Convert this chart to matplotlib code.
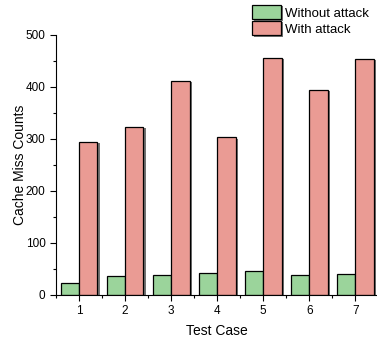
import numpy as np
import matplotlib
matplotlib.use("Agg")
import matplotlib.pyplot as plt
import matplotlib.patheffects as pe
from matplotlib.ticker import MultipleLocator

plt.rcParams["font.family"] = ["Liberation Sans", "DejaVu Sans"]

cases = [1, 2, 3, 4, 5, 6, 7]
without_attack = [23, 37, 39, 42, 47, 38, 41]
with_attack = [295, 323, 412, 303, 456, 394, 454]

green = "#9bd49b"
red = "#ea9b94"

fig = plt.figure(figsize=(3.77, 3.39), dpi=100)
ax = fig.add_axes([0.1485, 0.1298, 0.855, 0.767])

x = np.array(cases)
w = 0.4
shadow = [pe.SimplePatchShadow(offset=(1.5, -1.0), shadow_rgbFace="#444444", alpha=0.75), pe.Normal()]
b1 = ax.bar(x - w / 2, without_attack, w, color=green, edgecolor="black", linewidth=0.9,
            label="Without attack", path_effects=shadow)
b2 = ax.bar(x + w / 2, with_attack, w, color=red, edgecolor="black", linewidth=0.9,
            label="With attack", path_effects=shadow)

ax.set_xlim(0.5, 7.5)
ax.set_ylim(0, 500)
ax.set_xticks(cases)
ax.xaxis.set_minor_locator(MultipleLocator(0.5))
ax.yaxis.set_major_locator(MultipleLocator(100))
ax.yaxis.set_minor_locator(MultipleLocator(50))
ax.tick_params(which="major", length=4, width=0.8, labelsize=8.5, direction="out")
ax.tick_params(which="minor", length=2.5, width=0.8, direction="out")
ax.spines["top"].set_visible(False)
ax.spines["right"].set_visible(False)

ax.set_xlabel("Test Case", fontsize=10, labelpad=5)
ax.set_ylabel("Cache Miss Counts", fontsize=10, labelpad=-1)

fig.legend(handles=[b1, b2], loc="upper left", bbox_to_anchor=(0.668, 0.985),
           frameon=False, fontsize=9.5, handlelength=2.2, handleheight=1.3,
           labelspacing=0.1, handletextpad=0.3, borderpad=0, borderaxespad=0)

fig.savefig("out.png", dpi=100)
